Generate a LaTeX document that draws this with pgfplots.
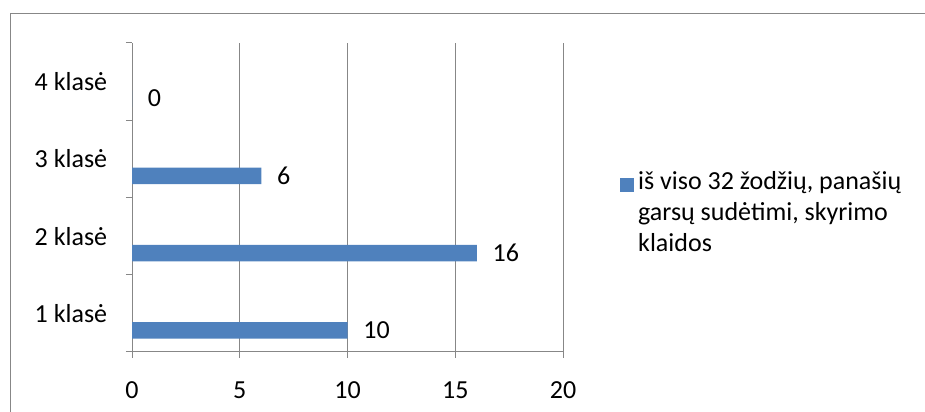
\documentclass[border=0pt]{standalone}
\usepackage{pgfplots}
\pgfplotsset{compat=1.18}
\usepackage{fontspec}
\setmainfont{Carlito}
\definecolor{barblue}{HTML}{4F81BD}
\definecolor{gridgray}{HTML}{878787}
\begin{document}
\fontsize{26bp}{31bp}\selectfont
\begin{tikzpicture}
  \useasboundingbox (0,0) rectangle (925bp,412bp);
  % outer chart frame
  \draw[gridgray, line width=0.8bp] (10bp,-10bp) -- (10bp,399bp) -- (940bp,399bp);
  \begin{axis}[
    at={(132bp,60bp)}, anchor=south west,
    scale only axis,
    width=431bp, height=309bp,
    xbar,
    bar width=16.5bp,
    bar shift=-17bp,
    xmin=0, xmax=20,
    ymin=0.5, ymax=4.5,
    xtick={0,5,10,15,20},
    ytick={0.5,1.5,2.5,3.5,4.5},
    yticklabels={},
    extra y ticks={1,2,3,4},
    extra y tick labels={1 klasė,2 klasė,3 klasė,4 klasė},
    extra y tick style={major tick length=0pt, ymajorgrids=false},
    axis x line*=bottom,
    axis y line*=left,
    axis line style={gridgray, line width=1bp},
    tick align=outside,
    major tick length=6bp,
    tick style={gridgray, line width=1bp},
    xmajorgrids=true,
    grid style={gridgray, line width=1bp},
    xticklabel style={yshift=-15bp},
    yticklabel style={xshift=-16bp},
    /pgf/number format/assume math mode=true,
    nodes near coords,
    nodes near coords style={anchor=west, xshift=7bp, black},
  ]
  \addplot[draw=none, fill=barblue] coordinates {(10,1) (16,2) (6,3) (0,4)};
  \end{axis}
  % legend
  \fill[barblue] (620bp,220bp) rectangle (634bp,234bp);
  \node[anchor=north west, align=left, inner sep=0pt] at (638bp,241bp)
    {iš viso 32 žodžių, panašių\\garsų sudėtimi, skyrimo\\klaidos};
\end{tikzpicture}
\end{document}
